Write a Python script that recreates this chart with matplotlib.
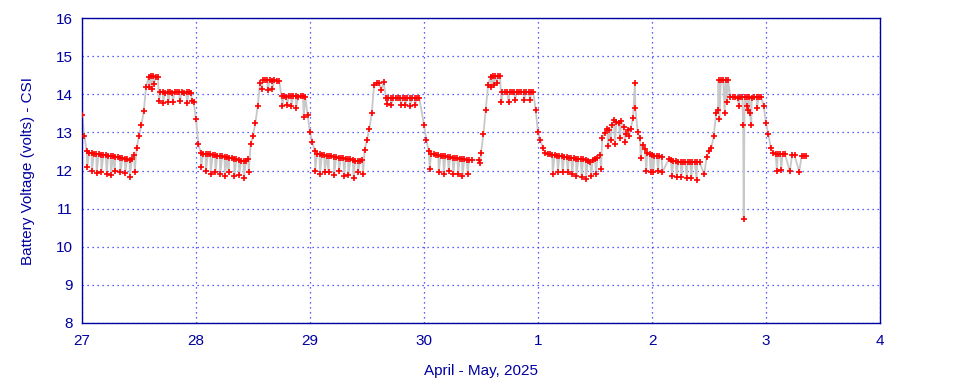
import numpy as np
import matplotlib
matplotlib.use("Agg")
import matplotlib.pyplot as plt

plt.rcParams['font.family'] = ['Liberation Sans', 'DejaVu Sans']

# day tick labels (Apr 27 .. May 4)
day_labels = ['27', '28', '29', '30', '1', '2', '3', '4']

# half-hourly readings, one list per day (None = no reading logged)
apr27_v = [13.45, 12.9, 12.5, 12.46, 12.45, 12.44, 12.43, 12.42, 12.41, 12.41, 12.40, 12.39,
           12.38, 12.37, 12.36, 12.35, 12.34, 12.32, 12.31, 12.29, 12.27, 12.3, 12.4, 12.6,
           12.9, 13.2, 13.55, 14.2, 14.45, 14.47, 14.47, 14.46, 14.45, 14.05, 14.05, 14.04,
           14.05, 14.05, 14.04, 14.05, 14.06, 14.05, 14.05, 14.04, 14.05, 14.05, 14.04, 13.8]
apr28_v = [13.35, 12.7, 12.46, 12.44, 12.43, 12.43, 12.42, 12.41, 12.40, 12.39, 12.38, 12.37,
           12.36, 12.35, 12.34, 12.33, 12.31, 12.30, 12.28, 12.26, 12.24, 12.24, 12.3, 12.7,
           12.9, 13.25, 13.7, 14.3, 14.37, 14.38, 14.37, 14.37, 14.36, 14.37, 14.36, 14.35,
           13.95, 13.95, 13.94, 13.95, 13.95, 13.96, 13.95, 13.94, 13.95, 13.95, 13.94, 13.45]
apr29_v = [13.0, 12.75, 12.5, 12.44, 12.42, 12.41, 12.40, 12.39, 12.38, 12.37, 12.36, 12.35,
           12.34, 12.33, 12.32, 12.31, 12.30, 12.29, 12.27, 12.26, 12.25, 12.24, 12.27, 12.55,
           12.8, 13.1, 13.5, 14.25, 14.3, 14.3, 14.12, 14.31, 13.9, 13.9, 13.9, 13.89,
           13.9, 13.9, 13.91, 13.9, 13.9, 13.89, 13.9, 13.9, 13.9, 13.91, 13.9, None]
apr30_v = [13.2, 12.8, 12.5, 12.43, 12.42, 12.41, 12.40, 12.39, 12.38, 12.37, 12.36, 12.35,
           12.34, 12.33, 12.32, 12.31, 12.30, 12.29, 12.28, 12.28, 12.28, None, None, 12.28,
           12.45, 12.95, 13.6, 14.25, 14.45, 14.48, 14.48, 14.48, 14.47, 14.06, 14.06, 14.05,
           14.06, 14.06, 14.07, 14.06, 14.06, 14.05, 14.06, 14.06, 14.06, 14.05, 14.06, 13.6]
may1_v = [13.0, 12.8, 12.6, 12.45, 12.43, 12.42, 12.41, 12.40, 12.39, 12.38, 12.37, 12.36,
          12.35, 12.34, 12.33, 12.32, 12.31, 12.30, 12.30, 12.29, 12.27, 12.24, 12.22, 12.27,
          12.3, 12.33, 12.4, 12.85, 12.98, 13.1, 13.05, 13.2, 13.32, 13.28, 13.25, 13.3,
          13.15, 12.97, 13.05, 13.1, 13.37, 13.63, 13.0, 12.85, 12.68, 12.56, 12.47, 12.42]
may2_v = [12.4, 12.39, 12.38, 12.37, 12.36, None, None, 12.3, 12.27, 12.25, 12.24, 12.23,
          12.22, 12.22, 12.22, 12.22, 12.22, 12.22, 12.22, 12.22, 12.22, None, 11.9, 12.35,
          12.5, 12.6, 12.9, 13.5, 14.37, 14.38, 14.37, 14.37, 14.37, 13.92, 13.92, 13.92,
          13.91, 13.92, 13.92, 13.93, 13.92, 13.92, 13.91, 13.92, 13.92, 13.92, 13.92, 13.7]
may3_v = [13.24, 12.95, 12.6, 12.45, 12.44, 12.43, 12.44, 12.44, 12.43, None, 11.98, 12.4,
          12.4, None, 11.97, 12.39, 12.39, 12.39]

# short load dips (hour of day, volts)
dip27_h = [1.1, 2.1, 3.1, 4.1, 5.2, 6.1, 6.9, 8.1, 9.1, 10.1, 11.1, 14.2, 14.7, 15.2,
           16.2, 17.1, 18.2, 19.1, 20.6, 22.1, 23.1]
dip27_v = [12.1, 11.99, 11.93, 11.97, 11.9, 11.88, 11.99, 11.95, 11.94, 11.84, 11.97, 14.2,
           14.15, 14.28, 13.82, 13.78, 13.8, 13.8, 13.82, 13.78, 13.82]
dip28_h = [1.1, 2.1, 3.1, 4.1, 5.1, 6.1, 6.9, 8.1, 9.1, 10.1, 11.1, 13.9, 15.1, 16.1,
           18.2, 19.2, 20.1, 21.1, 22.7]
dip28_v = [12.1, 11.98, 11.9, 11.95, 11.9, 11.85, 11.95, 11.85, 11.88, 11.8, 11.95, 14.15,
           14.1, 14.15, 13.7, 13.72, 13.7, 13.65, 13.4]
dip29_h = [1.1, 2.1, 3.1, 3.9, 5.1, 6.1, 7.2, 8.1, 9.2, 10.1, 11.2, 16.2, 17.1, 19.2,
           20.1, 21.1, 22.2]
dip29_v = [12.0, 11.92, 11.95, 11.95, 11.88, 11.98, 11.85, 11.88, 11.8, 11.95, 11.92, 13.75,
           13.72, 13.72, 13.72, 13.7, 13.72]
dip30_h = [1.2, 3.1, 4.2, 5.2, 6.2, 7.2, 8.1, 9.2, 11.8, 14.2, 14.7, 15.4, 16.3, 17.8,
           19.2, 21.1, 22.4]
dip30_v = [12.05, 11.95, 11.9, 11.98, 11.92, 11.92, 11.85, 11.9, 12.2, 14.2, 14.25, 14.3,
           13.8, 13.8, 13.85, 13.85, 13.85]
dip_may1_h = [3.1, 4.2, 5.2, 6.3, 7.2, 8.1, 9.2, 10.1, 11.2, 12.2, 13.3, 14.8, 15.3, 16.2,
              17.3, 18.3, 19.2, 20.4, 21.6, 22.8, 23.7]
dip_may1_v = [11.92, 11.97, 11.95, 11.95, 11.92, 11.85, 11.82, 11.78, 11.85, 11.9, 12.05,
              12.65, 12.8, 12.7, 12.85, 12.75, 12.9, 14.3, 12.32, 12.0, 11.97]
dip_may2_h = [0.3, 1.3, 2.2, 4.2, 5.2, 6.2, 7.3, 8.3, 9.4, 13.9, 14.2, 15.3, 15.8, 18.3,
              19.2, 19.3, 19.9, 20.2, 20.6, 20.9, 22.1]
dip_may2_v = [11.97, 11.98, 11.95, 11.85, 11.82, 11.82, 11.8, 11.8, 11.75, 13.6, 13.35,
              13.5, 13.8, 13.7, 13.2, 10.73, 13.7, 13.6, 13.5, 13.2, 13.65]
dip_may3_h = [2.3, 3.2]
dip_may3_v = [12.0, 12.02]

days_main = [apr27_v, apr28_v, apr29_v, apr30_v, may1_v, may2_v, may3_v]
days_dip_h = [dip27_h, dip28_h, dip29_h, dip30_h, dip_may1_h, dip_may2_h, dip_may3_h]
days_dip_v = [dip27_v, dip28_v, dip29_v, dip30_v, dip_may1_v, dip_may2_v, dip_may3_v]

# build one time series (days since Apr 27 00:00)
t_all = []
v_all = []
for d in range(len(days_main)):
    for i, v in enumerate(days_main[d]):
        if v is not None:
            t_all.append(d + i / 48)
            v_all.append(v)
    for h, v in zip(days_dip_h[d], days_dip_v[d]):
        t_all.append(d + h / 24)
        v_all.append(v)

order = np.argsort(t_all, kind='stable')
t_all = np.array(t_all)[order]
v_all = np.array(v_all)[order]

navy = '#0000a0'

fig = plt.figure(figsize=(9.6, 3.84), dpi=100)
ax = fig.add_axes([82 / 960, 61 / 384, 798 / 960, 305 / 384])

ax.plot(t_all, v_all, color='#c8c8c8', lw=1.3, zorder=2)
ax.plot(t_all, v_all, ls='none', marker='+', ms=5, mew=1.2, color='#ff0000', zorder=3)

ax.set_xlim(0, 7)
ax.set_ylim(8, 16)
ax.set_xticks(range(8))
ax.set_xticklabels(day_labels)
ax.set_yticks(range(8, 17))

ax.grid(True, color='#2a2aff', linestyle=(0, (1, 3)), lw=0.9)
ax.set_axisbelow(True)

ax.tick_params(axis='x', length=0, pad=8, colors=navy, labelsize=11)
ax.tick_params(axis='y', length=0, pad=6.5, colors=navy, labelsize=11)
for s in ax.spines.values():
    s.set_color(navy)
    s.set_linewidth(1)

fig.text(481 / 960, 1 - 371 / 384, 'April - May, 2025', ha='center', va='center',
         color=navy, fontsize=11)
fig.text(28 / 960, 1 - 171 / 384, 'Battery Voltage (volts) - CSI', ha='center', va='center',
         rotation=90, color=navy, fontsize=11)

fig.savefig('out.png', dpi=100)
